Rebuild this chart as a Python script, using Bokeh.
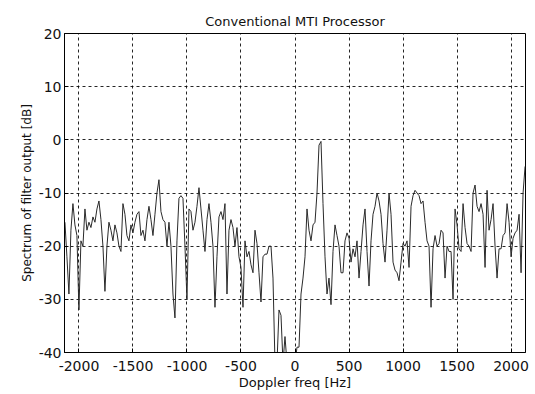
import numpy as np
from bokeh.plotting import figure
from bokeh.models import Range1d, FixedTicker
from bokeh.embed import file_html
from bokeh.resources import INLINE

spectrum_db = [
    -15.5, -22, -29, -17, -12, -16, -18, -32, -19, -20, -13, -17, -15.5, -16.5, -14.5, -15.5,
    -13, -11.5, -15, -20, -28.5, -20, -15.5, -17, -19, -16, -17.5, -20, -21, -12, -14, -18, -19, -16,
    -17.5, -15.5, -14, -13.5, -18, -17, -19, -15, -12.5, -15, -18, -14, -10, -7.5, -13.5, -15,
    -15.5, -20, -15.5, -20, -29, -33.5, -19, -11, -10.5, -11, -20, -30, -13, -13.5, -17, -15.5, -12.5,
    -9, -13, -17, -21, -15, -12, -15.5, -20, -31.5, -22, -14.5, -13.5, -15, -12, -29, -17,
    -15, -16.5, -20, -16.5, -22, -24, -31.5, -19, -22, -21, -23.5, -25, -17, -19.5, -25, -30.5, -22,
    -21.5, -21.5, -20, -20, -26, -42, -42, -32, -33, -42, -37, -42, -42, -42, -42, -42,
    -39, -39, -29, -26, -22, -13, -17, -19, -16, -15.5, -10, -1, -0.3, -12, -22, -29, -26,
    -31, -21, -16, -18, -20, -25, -25, -19, -17.5, -18.5, -23, -20.5, -22, -19, -26, -21,
    -16, -13, -21, -27.5, -19, -14, -12.5, -10, -11.5, -14, -19.5, -23, -17, -10, -14, -23, -24.5,
    -25, -26.5, -23, -19.5, -20, -19, -24, -12.5, -10.5, -9.5, -10, -10.5, -12, -11.5, -15.5, -19,
    -20, -31.5, -20.5, -18, -20, -19.5, -17, -17.5, -26, -20, -21, -21, -30, -13, -16, -20.5, -21,
    -12, -16.5, -19.5, -20, -21, -10, -8.5, -12.5, -13.5, -12, -14, -24, -9.5, -17, -15, -12,
    -20, -26, -20.5, -20.5, -18, -17.5, -12, -15.5, -22, -18.5, -17.5, -17, -14, -25, -10, -5,
]
f_first, f_last = -2130, 2130
freq_hz = np.linspace(f_first, f_last, len(spectrum_db))

x_ticks = [-2000, -1500, -1000, -500, 0, 500, 1000, 1500, 2000]
y_ticks = [-40, -30, -20, -10, 0, 10, 20]

FONT = "DejaVu Sans"

p = figure(width=535, height=394, output_backend="svg", toolbar_location=None,
           x_range=Range1d(-2134, 2134), y_range=Range1d(-40, 20),
           min_border_left=64, min_border_right=10, min_border_top=33, min_border_bottom=42,
           background_fill_color="white", border_fill_color="white")

p.title.text = "Conventional MTI Processor"
p.title.align = "center"
p.title.text_font = FONT
p.title.text_font_size = "13px"
p.title.text_font_style = "normal"
p.title.text_color = "#111111"

p.line(freq_hz, spectrum_db, line_color="#2a2a2a", line_width=1)

p.xaxis.ticker = FixedTicker(ticks=x_ticks)
p.yaxis.ticker = FixedTicker(ticks=y_ticks)
p.xaxis.major_label_overrides = {t: str(t) for t in x_ticks}
p.yaxis.major_label_overrides = {t: str(t) for t in y_ticks}
for ax in (p.xaxis, p.yaxis):
    ax.major_label_text_font = FONT
    ax.major_label_text_font_size = "14px"
    ax.major_label_text_color = "#111111"
    ax.axis_label_text_font = FONT
    ax.axis_label_text_font_style = "normal"
    ax.axis_label_text_color = "#111111"
    ax.major_tick_in = 4
    ax.major_tick_out = 0
    ax.minor_tick_line_color = None
    ax.axis_line_color = "black"
    ax.major_tick_line_color = "black"

p.yaxis.major_label_standoff = 3
p.xaxis.major_label_standoff = 8

p.xaxis.axis_label = "Doppler freq [Hz]"
p.xaxis.axis_label_text_font_size = "13px"
p.xaxis.axis_label_standoff = 1
p.yaxis.axis_label = "Spectrum of filter output [dB]"
p.yaxis.axis_label_text_font_size = "12px"
p.yaxis.axis_label_standoff = 2

p.grid.grid_line_color = "black"
p.grid.grid_line_dash = "3 3"
p.grid.grid_line_alpha = 0.85
p.grid.grid_line_width = 1

p.outline_line_color = "black"
p.outline_line_alpha = 1
p.outline_line_width = 1

open("out.html", "w").write(file_html(p, INLINE))
